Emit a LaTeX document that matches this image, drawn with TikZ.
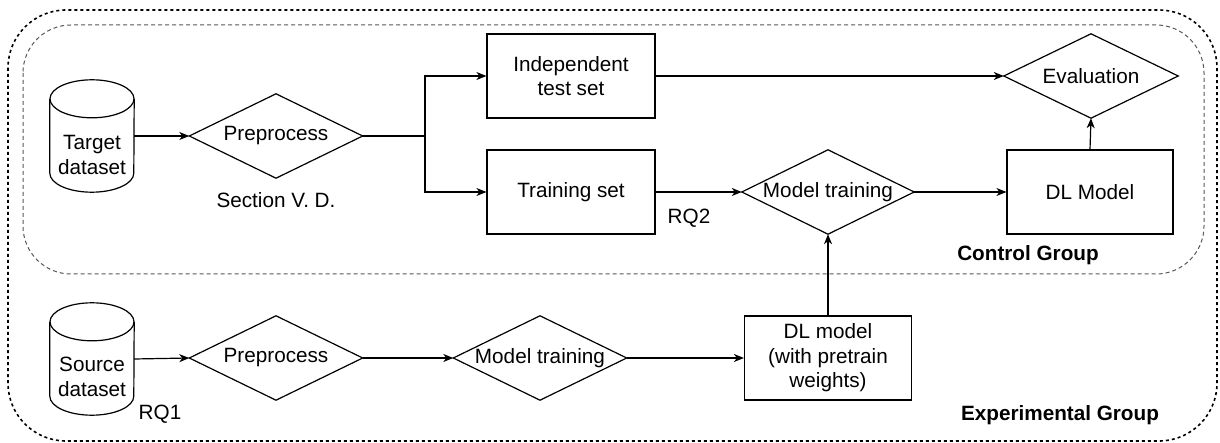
\documentclass[tikz,border=0pt]{standalone}
\usepackage{fontspec}
\setmainfont{Liberation Sans}
\usetikzlibrary{arrows.meta,calc}
\tikzset{
  base/.style={font=\fontsize{20.7}{24.5}\selectfont, align=center, inner sep=0pt},
  boxnode/.style={base, draw, line width=1.2pt, minimum width=168pt, minimum height=84pt},
  dianode/.style={base, minimum width=173pt, minimum height=84pt},
  cylnode/.style={base, minimum width=84pt, minimum height=112pt},
  txt/.style={base},
  grp/.style={base, font=\fontsize{20.7}{24.5}\selectfont\bfseries},
  conn/.style={line width=1.2pt},
  arr/.style={conn, -{Stealth[length=10pt,width=8pt,inset=3pt]}},
  outerframe/.style={line width=1.6pt, dash pattern=on 3pt off 3pt, rounded corners=58pt},
  innerframe/.style={line width=1pt, black!65, dash pattern=on 4pt off 3pt, rounded corners=48pt},
}
\begin{document}
\begin{tikzpicture}[x=1pt,y=-1pt]
\fill[white] (0,0) rectangle (1220,443);
\useasboundingbox (0,0) rectangle (1220,443);

% frames
\draw[outerframe] (8,10) rectangle (1217,441);
\draw[innerframe] (23,25) rectangle (1204,274);

% control group row
\node[cylnode] (tgt) at (92,136) {};
\node[txt] (tgtl) at (92,155) {Target\\dataset};
\node[dianode] (pre1) at (276,136) {Preprocess};
\node[txt] (sec) at (276,200) {Section V. D.};
\coordinate (br) at (425,136);
\node[boxnode] (test) at (571,76) {Independent\\test set};
\node[boxnode] (train) at (571,192) {Training set};
\node[txt] (rq2) at (689,218) {RQ2};
\node[dianode, minimum width=172pt] (mt1) at (828,192) {Model training};
\node[boxnode, minimum width=166pt] (dl) at (1090,192) {DL Model};
\node[dianode, minimum width=174pt] (eval) at (1091,76) {Evaluation};
\node[grp] (ctrl) at (1028,255) {Control Group};

% experimental group row
\node[cylnode] (src) at (92,359) {};
\node[txt] (srcl) at (92,377) {Source\\dataset};
\node[txt] (rq1) at (160,414) {RQ1};
\node[dianode] (pre2) at (276,358) {Preprocess};
\node[dianode] (mt2) at (540,358) {Model training};
\node[boxnode, minimum width=167pt] (dlp) at (828,358) {DL model\\(with pretrain\\weights)};
\node[grp] (exp) at (1060,415) {Experimental Group};

% cylinders
\foreach \n in {tgt,src}{
  \draw[conn] ($(\n.north west)+(0,19)$) -- ($(\n.south west)+(0,-19)$)
     arc[start angle=180,end angle=0,x radius=42,y radius=19]
     -- ($(\n.north east)+(0,19)$);
  \draw[conn] ($(\n.north)+(0,19)$) ellipse[x radius=42,y radius=19];
}
% diamonds
\foreach \n in {pre1,mt1,eval,pre2,mt2}{
  \draw[conn] (\n.west) -- (\n.north) -- (\n.east) -- (\n.south) -- cycle;
}

% connectors
\draw[arr] (tgt.east) -- (pre1.west);
\draw[conn] (pre1.east) -- (br);
\draw[arr] (br) |- (test.west);
\draw[arr] (br) |- (train.west);
\draw[arr] (test.east) -- (eval.west);
\draw[arr] (train.east) -- (mt1.west);
\draw[arr] (mt1.east) -- (dl.west);
\draw[arr] (dl.north) -- (eval.south);
\draw[arr] (src.east) -- (pre2.west);
\draw[arr] (pre2.east) -- (mt2.west);
\draw[arr] (mt2.east) -- (dlp.west);
\draw[arr] (dlp.north) -- (mt1.south);
\end{tikzpicture}
\end{document}
